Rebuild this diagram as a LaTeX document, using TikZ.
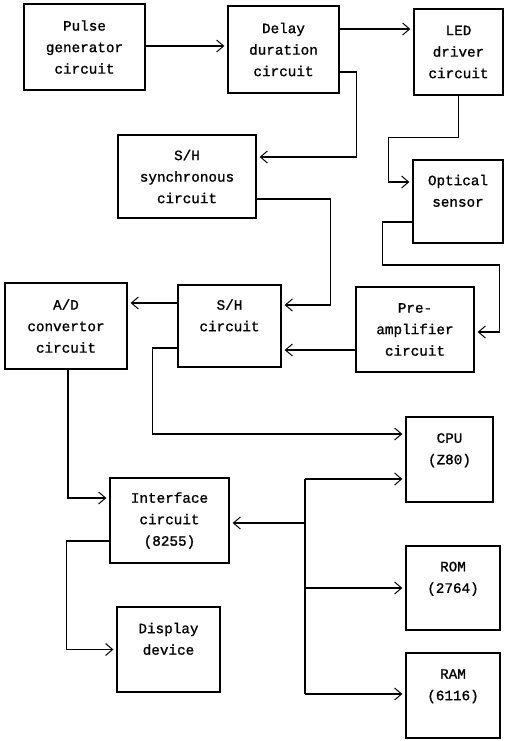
\documentclass[tikz,border=0pt]{standalone}
\usepackage{fontspec}
\newfontfamily\diagfont[FakeBold=1.2]{Liberation Mono}
\usetikzlibrary{arrows.meta}
\begin{document}
\begin{tikzpicture}[x=1pt,y=-1pt,
  box/.style={draw,line width=1.3pt,inner sep=0pt,align=center,
    font=\diagfont\fontsize{14.3}{21.5}\selectfont},
  arr/.style={-{Straight Barb[length=7pt,width=12pt,line width=1pt]},line width=1.1pt,shorten >=3pt},
  ln/.style={line width=1.1pt}]
\useasboundingbox (0,0) rectangle (506,741);
% boxes
\node[box,minimum width=121pt,minimum height=86pt] (pulse) at (84.5,47) {Pulse\\generator\\circuit};
\node[box,minimum width=111pt,minimum height=87pt] (delay) at (283.5,49.5) {Delay\\duration\\circuit};
\node[box,minimum width=89pt,minimum height=86pt] (led) at (458.5,52) {LED\\driver\\circuit};
\node[box,minimum width=138pt,minimum height=83pt] (shsync) at (187,176.5) {S/H\\synchronous\\circuit};
\node[box,minimum width=90pt,minimum height=83pt] (optical) at (458,201.5) {Optical\\sensor\\\mbox{}};
\node[box,minimum width=122pt,minimum height=86pt] (ad) at (66,326) {A/D\\convertor\\circuit};
\node[box,minimum width=103pt,minimum height=82pt] (sh) at (229.5,326) {S/H\\circuit\\\mbox{}};
\node[box,minimum width=118pt,minimum height=85pt] (pre) at (415,329.5) {Pre-\\amplifier\\circuit};
\node[box,minimum width=87pt,minimum height=85pt] (cpu) at (449.5,459.5) {CPU\\(Z80)\\\mbox{}};
\node[box,minimum width=119pt,minimum height=85pt] (iface) at (169.5,520.5) {Interface\\circuit\\(8255)};
\node[box,minimum width=94pt,minimum height=84pt] (rom) at (453,588) {ROM\\(2764)\\\mbox{}};
\node[box,minimum width=103pt,minimum height=85pt] (display) at (168.5,649.5) {Display\\device\\\mbox{}};
\node[box,minimum width=94pt,minimum height=85pt] (ram) at (453,695.5) {RAM\\(6116)\\\mbox{}};
% connector anchor points
\coordinate (c1) at ([yshift=1pt]pulse.east);
\coordinate (c2) at ([yshift=20.5pt]delay.east);
\coordinate (c3) at ([yshift=-20.5pt]pre.west);
\coordinate (c4) at ([yshift=23pt]sh.west);
\coordinate (bt) at (305,479);
\coordinate (bb) at (305,694);
\coordinate (c5) at ([yshift=-2.5pt]iface.east);
% connectors
\draw[arr] (c1) -- (delay.west |- c1);
\draw[arr] (c2) -- (led.west |- c2);
\draw[arr] ([yshift=-22.5pt]delay.east) -- ++(17,0) |- ([yshift=19.5pt]shsync.east);
\draw[arr] ([yshift=-22.5pt]shsync.east) -- ++(74,0) |- ([yshift=21pt]sh.east);
\draw[arr] (led.south) -- ++(0,42) -- ++(-70,0) |- ([yshift=19.5pt]optical.west);
\draw[arr] ([yshift=-20.5pt]optical.west) -- ++(-30,0) -- ++(0,43) -- ++(117,0) |- ([yshift=-2.5pt]pre.east);
\draw[arr] (c3) -- (sh.east |- c3);
\draw[arr] (c4) -- (ad.east |- c4);
\draw[arr] ([xshift=2pt]ad.south) |- ([yshift=22.5pt]iface.west);
\draw[arr] ([yshift=-22pt]sh.west) -- ++(-25,0) |- ([yshift=25.5pt]cpu.west);
\draw[ln] (bt) -- (bb);
\draw[arr] (bt) -- (cpu.west |- bt);
\draw[arr] (bb) -- (ram.west |- bb);
\draw[arr] (bt |- rom.west) -- (rom.west);
\draw[arr] (bt |- c5) -- (c5);
\draw[arr] ([yshift=-20.5pt]iface.west) -- ++(-43,0) |- (display.west);
\end{tikzpicture}
\end{document}
